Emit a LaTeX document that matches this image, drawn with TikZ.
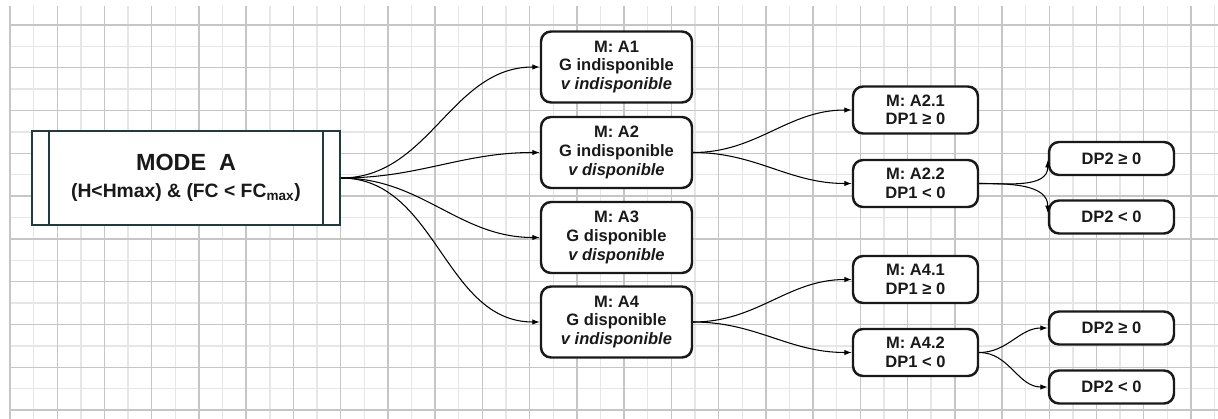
\documentclass[tikz,border=0pt]{standalone}
\usepackage{fontspec}
\setmainfont{Liberation Sans}
\usetikzlibrary{arrows.meta}

\definecolor{gridmajor}{HTML}{C6C6C6}
\definecolor{gridminor}{HTML}{E6E6E6}
\definecolor{modeedge}{HTML}{1F3B3E}

\tikzset{
  mode/.style={draw=modeedge, line width=1.1pt, fill=white, minimum width=6.16cm,
    minimum height=1.88cm, inner sep=0pt, align=center, text=black!90},
  modebar/.style={draw=modeedge, line width=1.6pt},
  casebox/.style={draw=black!90, line width=1.4pt, rounded corners=0.2cm, fill=white,
    inner sep=0pt, align=center, text=black!90, font=\bfseries\fontsize{9.4}{10.6}\selectfont},
  bigcase/.style={casebox, minimum width=3.02cm, minimum height=1.42cm},
  subcase/.style={casebox, minimum width=2.5cm, minimum height=0.94cm},
  signcase/.style={casebox, minimum width=2.5cm, minimum height=0.66cm},
  conn/.style={-{Latex[length=1.5mm,width=1.1mm]}, line width=0.6pt},
}

\begin{document}
\begin{tikzpicture}[x=0.02cm,y=0.02cm]
\useasboundingbox (0,0) rectangle (1218,-419);

% squared paper
\foreach \k in {1,3,...,51}
  \draw[gridminor, line width=0.8pt] ({10+23.62*\k},-6) -- ({10+23.62*\k},-419);
\foreach \j in {1,3,...,17}
  \draw[gridminor, line width=0.8pt] (10,{-25-21.39*\j}) -- (1218,{-25-21.39*\j});
\foreach \k in {0,2,...,50}
  \draw[gridmajor, line width=0.8pt] ({10+23.62*\k},-6) -- ({10+23.62*\k},-419);
\foreach \j in {0,2,...,18}
  \draw[gridmajor, line width=0.8pt] (10,{-25-21.39*\j}) -- (1218,{-25-21.39*\j});

% mode A
\node[mode] (modeA) at (186,-178)
  {{\fontsize{13.3}{15}\selectfont\bfseries MODE\hspace{0.55em}A}\\[3pt]
   {\bfseries\fontsize{11}{13}\selectfont (H<Hmax) \& (FC < FC\textsubscript{max})}};
\draw[modebar] ([xshift=0.36cm]modeA.north west) -- ([xshift=0.36cm]modeA.south west);
\draw[modebar] ([xshift=-0.36cm]modeA.north east) -- ([xshift=-0.36cm]modeA.south east);

% sub-modes
\node[bigcase] (a1) at (616.5,-67) {M: A1\\G indisponible\\\textit{v indisponible}};
\node[bigcase] (a2) at (616.5,-152.5) {M: A2\\G indisponible\\\textit{v disponible}};
\node[bigcase] (a3) at (616.5,-237.5) {M: A3\\G disponible\\\textit{v disponible}};
\node[bigcase] (a4) at (616.5,-322) {M: A4\\G disponible\\\textit{v indisponible}};

\node[subcase] (a21) at (915.5,-110) {M: A2.1\\DP1 ≥ 0};
\node[subcase] (a22) at (915.5,-183.5) {M: A2.2\\DP1 < 0};
\node[subcase] (a41) at (915.5,-279.5) {M: A4.1\\DP1 ≥ 0};
\node[subcase] (a42) at (915.5,-352.5) {M: A4.2\\DP1 < 0};

\node[signcase] (a22p) at (1111.5,-158.5) {DP2 ≥ 0};
\node[signcase] (a22n) at (1111.5,-217) {DP2 < 0};
\node[signcase] (a42p) at (1111.5,-328) {DP2 ≥ 0};
\node[signcase] (a42n) at (1111.5,-387) {DP2 < 0};

% connectors
\foreach \n in {a1,a2,a3,a4}
  \draw[conn] (modeA.east) to[out=0,in=180] (\n.west);
\draw[conn] (a2.east) to[out=0,in=180] (a21.west);
\draw[conn] (a2.east) to[out=0,in=180] (a22.west);
\draw[conn] (a4.east) to[out=0,in=180] (a41.west);
\draw[conn] (a4.east) to[out=0,in=180] (a42.west);
\draw[conn] (a22.east) to[out=0,in=-90] ([yshift=-0.03cm]a22p.west);
\draw[conn] (a22.east) to[out=0,in=90] ([yshift=0.08cm]a22n.west);
\draw[conn] (a42.east) to[out=0,in=180] (a42p.west);
\draw[conn] (a42.east) to[out=0,in=180] (a42n.west);
\end{tikzpicture}
\end{document}
